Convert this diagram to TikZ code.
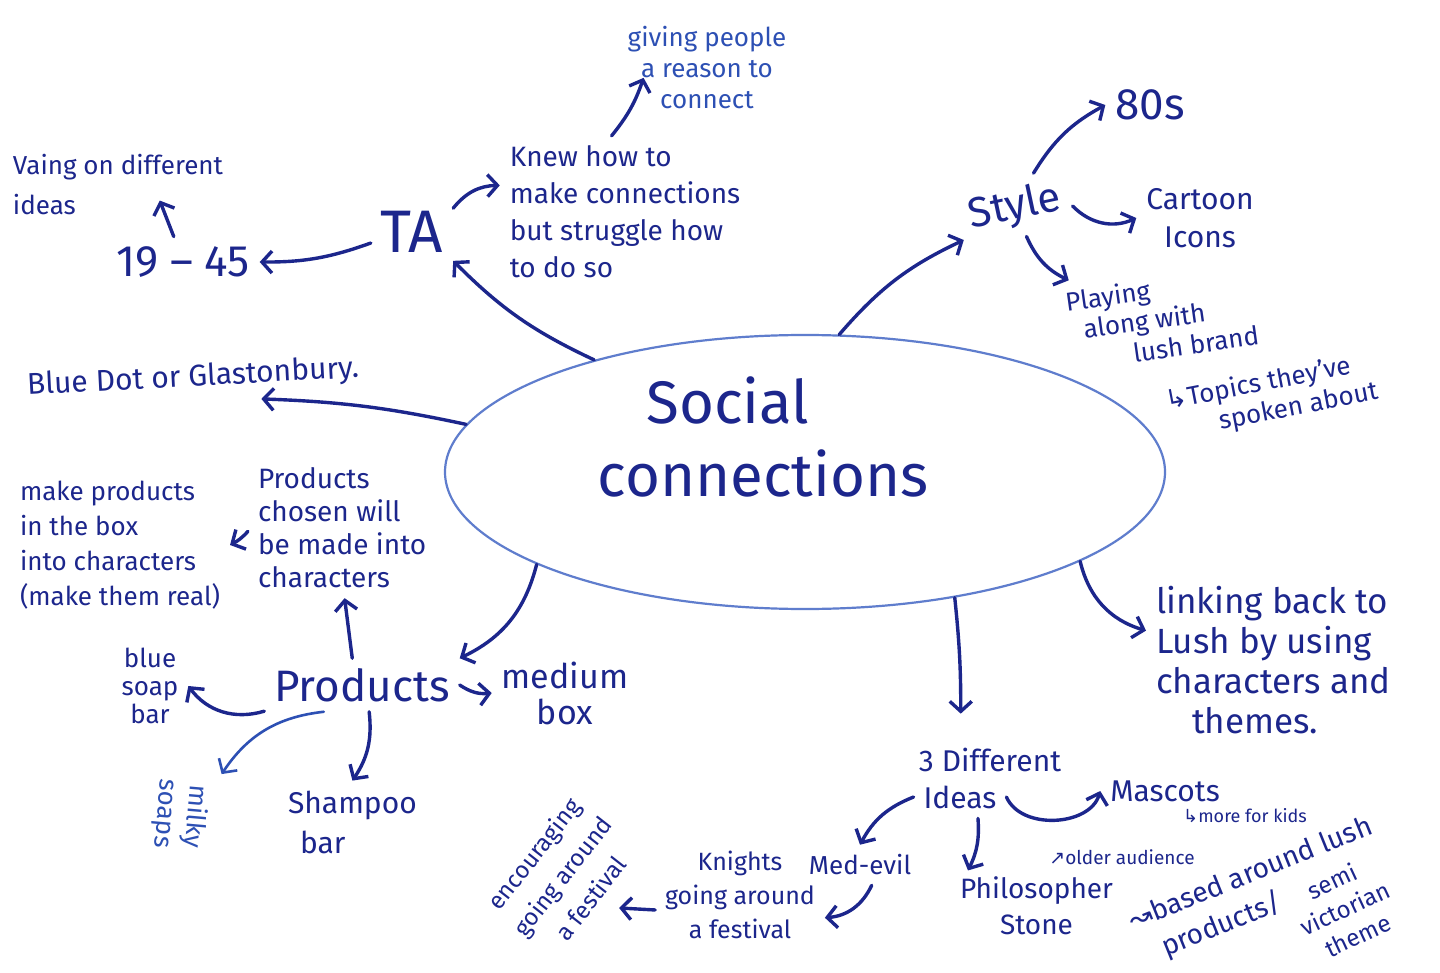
\documentclass[tikz,border=0pt]{standalone}
\usepackage{fontspec}
\setmainfont{Fira Sans}
\newfontfamily\sym{DejaVu Sans}
\usetikzlibrary{shapes.geometric,arrows.meta}
\definecolor{ink}{RGB}{28,38,140}
\definecolor{inkl}{RGB}{45,80,180}
\definecolor{ring}{RGB}{95,125,205}
\newcommand\hw[2]{\fontsize{#1}{#2}\selectfont}
\begin{document}
\begin{tikzpicture}[x=0.5pt,y=-0.5pt,
  txt/.style={text=ink, align=center, inner sep=1pt, outer sep=4pt},
  arr/.style={draw=ink, line width=1.7pt, line cap=round, line join=round, -{Straight Barb[length=5pt,width=11pt]}},
  arrl/.style={arr, draw=inkl, line width=1.3pt},
]
\useasboundingbox (0,0) rectangle (1440,973);
\fill[white] (0,0) rectangle (1440,973);

% centre
\node[ellipse, draw=ring, line width=1.1pt, minimum width=360pt, minimum height=137pt, inner sep=0pt] (ell) at (805,472) {};
\node[txt, font=\hw{30}{32}] (social) at (728,400) {Social};
\node[txt, font=\hw{30}{32}] (conn) at (763,473) {connections};

% TA branch
\node[txt, font=\hw{30}{32}] (ta) at (412,232) {TA};
\node[txt, font=\hw{22}{24}] (n1945) at (183,262) {19 – 45};
\node[txt, font=\hw{13}{20}, align=left] (vaing) at (118,185) {Vaing on different\\ideas};
\node[txt, font=\hw{14}{18.5}, align=left] (knew) at (625,212) {Knew how to\\make connections\\but struggle how\\to do so};
\node[txt, text=inkl, font=\hw{13}{15.5}] (giving) at (707,68) {giving people\\a reason to\\connect};

% Style branch
\node[txt, rotate=12, font=\hw{21}{22}] (style) at (1015,208) {Style};
\node[txt, font=\hw{22}{24}] (s80) at (1150,105) {80s};
\node[txt, font=\hw{15}{19}] (cartoon) at (1200,218) {Cartoon\\Icons};
\node[txt, rotate=8, font=\hw{13}{15}, align=left] (playing) at (1162,318) {Playing\\\hspace*{7pt}along with\\\hspace*{30pt}lush brand};
\node[txt, rotate=11, font=\hw{13}{15}, align=left] (topics) at (1272,397) {{\sym ↳}Topics they've\\\hspace*{24pt}spoken about};

% linking
\node[txt, font=\hw{17.5}{20}, align=left, anchor=west] (linking) at (1146,660) {linking back to\\Lush by using\\characters and\\\hspace*{18pt}themes.};

% 3 ideas
\node[txt, font=\hw{15}{18}] (three) at (990,760) {3 Different};
\node[txt, font=\hw{15}{18}] (ideas) at (960,797) {Ideas};
\node[txt, font=\hw{15}{18}] (mascots) at (1165,791) {Mascots};
\node[txt, font=\hw{9}{10}] (kids) at (1245,816) {{\sym ↳}more for kids};
\node[txt, font=\hw{13}{15}] (medevil) at (860,865) {Med-evil};
\node[txt, font=\hw{9.5}{11}] (older) at (1122,857) {{\sym ↗}older audience};
\node[txt, font=\hw{14}{18}, align=left, anchor=west] (philo) at (950,906) {Philosopher\\\hspace*{20pt}Stone};
\node[txt, rotate=22, font=\hw{14}{16}] (based) at (1250,872) {{\sym ↝}based around lush};
\node[txt, rotate=22, font=\hw{14}{16}] (prods2) at (1222,925) {products/};
\node[txt, rotate=25, font=\hw{12}{15}] (semi) at (1345,908) {semi\\victorian\\theme};
\node[txt, font=\hw{12.5}{17}] (knights) at (740,895) {Knights\\going around\\a festival};
\node[txt, rotate=52, font=\hw{12}{18}] (encour) at (562,876) {encouraging\\going around\\a festival};

% left side
\node[txt, rotate=3, font=\hw{15}{17}] (bluedot) at (193,378) {Blue Dot or Glastonbury.};
\node[txt, font=\hw{13}{17.5}, align=left, anchor=west] (makeprod) at (10,545) {make products\\in the box\\into characters\\(make them real)};
\node[txt, font=\hw{14}{16.5}, align=left, anchor=west] (pchosen) at (248,528) {Products\\chosen will\\be made into\\characters};
\node[txt, font=\hw{22}{24}] (products) at (362,685) {Products};
\node[txt, font=\hw{17}{18}] (medium) at (565,693) {medium\\box};
\node[txt, font=\hw{13}{14}] (bluesoap) at (150,686) {blue\\soap\\bar};
\node[txt, text=inkl, rotate=-95, font=\hw{13}{15}] (milky) at (180,815) {milky\\soaps};
\node[txt, font=\hw{15}{20}, align=left, anchor=west] (shampoo) at (278,822) {Shampoo\\\hspace*{6pt}bar};

% connectors
\draw[arr] (ell.152) to[bend left=10] (ta.-35);
\draw[arr] (ta.195) to[bend left=10] (n1945.east);
\draw[arr] (n1945.110) -- ++(-14,-36);
\draw[arr] (ta.30) to[bend left=25] (knew.168);
\draw[arr] (knew.100) to[bend right=10] ++(32,-58);
\draw[arr] (ell.76) to[bend left=12] (style.200);
\draw[arr] (style.50) to[bend left=15] (s80.west);
\draw[arr] (style.-10) to[bend right=35] (cartoon.west);
\draw[arr] (style.-80) to[bend right=20] (playing.150);
\draw[arr] (ell.-18) to[bend right=30] (linking.167);
\draw[arr] (ell.-40) to[bend left=3] ++(6,116);
\draw[arr] (ideas.east) to[bend right=70] (mascots.west);
\draw[arr] (ideas.west) to[bend right=20] (medevil.north);
\draw[arr] (ideas.-50) to[bend left=15] ++(-10,52);
\draw[arr] (medevil.-60) to[bend left=30] (knights.-15);
\draw[arr] (knights.-170) -- ++(-36,-2);
\draw[arr] (ell.172) to[bend right=5] (bluedot.-20);
\draw[arr] (ell.199) to[bend left=25] (products.north east);
\draw[arr] (products.110) -- (pchosen.-88);
\draw[arr] (pchosen.182) to[bend left=10] (makeprod.east);
\draw[arr] (products.east) to[bend right=20] (medium.west);
\draw[arr] (products.195) to[bend left=35] (bluesoap.east);
\draw[arrl] (products.215) to[bend right=25] (milky.north west);
\draw[arr] (products.-75) to[bend left=20] (shampoo.north);
\end{tikzpicture}
\end{document}
